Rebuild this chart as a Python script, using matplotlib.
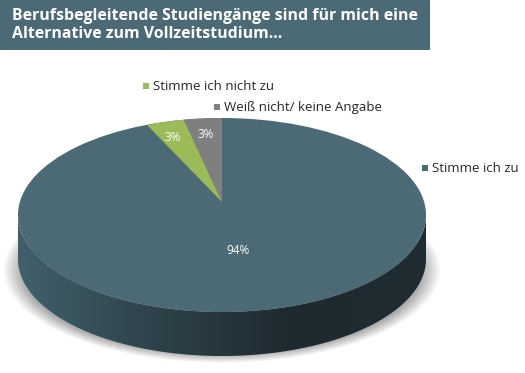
import numpy as np
import matplotlib.pyplot as plt
from matplotlib.patches import Polygon, Rectangle, Ellipse
from matplotlib.colors import LinearSegmentedColormap

# data
labels = ["Stimme ich zu", "Stimme ich nicht zu", "Weiß nicht/ keine Angabe"]
values = [94, 3, 3]
colors = ["#4b6a75", "#9bbb59", "#7f7f7f"]
title = "Berufsbegleitende Studiengänge sind für mich eine\nAlternative zum Vollzeitstudium..."

W, H = 525, 373
fig = plt.figure(figsize=(W / 100, H / 100), dpi=100)
ax = fig.add_axes([0, 0, 1, 1])
ax.set_xlim(0, W)
ax.set_ylim(H, 0)
ax.axis("off")

# pie geometry in pixels
cx, cy = 222, 215
a, b = 204, 97
depth = 44
apex = (222, 202)   # centre of the top face as seen in perspective


def pt(theta):
    t = np.radians(theta)
    return cx + a * np.cos(t), cy - b * np.sin(t)


# soft shadow (blurred ellipse)
X, Y = np.meshgrid(np.arange(W) + 0.5, np.arange(H) + 0.5)
r = np.sqrt(((X - 222) / 219) ** 2 + ((Y - 270) / 93) ** 2)
alpha = 0.6 * np.clip((1.0 - r) / 0.09, 0, 1)
shadow = np.zeros((H, W, 4))
shadow[..., :3] = 0.45
shadow[..., 3] = alpha
ax.imshow(shadow, extent=[0, W, H, 0], zorder=1, interpolation="bilinear")

# side of the cylinder (front half), gradient fill
th = np.linspace(180, 360, 200)
top_x = cx + a * np.cos(np.radians(th))
top_y = cy - b * np.sin(np.radians(th))
side = np.vstack([np.column_stack([top_x, top_y]),
                  np.column_stack([top_x[::-1], top_y[::-1] + depth])])
side_patch = Polygon(side, closed=True, fc="none", ec="none", zorder=2)
ax.add_patch(side_patch)
grad = np.linspace(0, 1, 256).reshape(1, -1)
cmap = LinearSegmentedColormap.from_list("side", ["#41606b", "#2e424a", "#1e2a30", "#1f2c32"])
im = ax.imshow(grad, cmap=cmap, extent=[cx - a, cx + a, cy + b + depth, cy - 5],
               aspect="auto", zorder=2, interpolation="bicubic")
im.set_clip_path(side_patch)
ax.set_xlim(0, W)
ax.set_ylim(H, 0)

# top face: big slice as full ellipse, small slices counterclockwise from 12 o'clock
ax.add_patch(Ellipse((cx, cy), 2 * a, 2 * b, fc=colors[0], ec="none", zorder=3))
total = sum(values)
start = 90
label_pos = {}
for idx in [2, 1]:
    span = values[idx] / total * 360
    angs = np.linspace(start, start + span, 20)
    pts = [apex] + [pt(t) for t in angs]
    ax.add_patch(Polygon(pts, closed=True, fc=colors[idx], ec="none", zorder=4))
    label_pos[idx] = start + span / 2
    start += span

# percentage labels
ax.text(238, 251, f"{values[0]}%", color="white", fontsize=8.5, ha="center", va="center",
        family="Open Sans", zorder=5)
for idx in (1, 2):
    t = np.radians(label_pos[idx])
    x = cx + a * 0.86 * np.cos(t)
    y = cy - b * 0.86 * np.sin(t) + 3
    ax.text(x, y, f"{values[idx]}%", color="white", fontsize=8.5, ha="center", va="center",
            family="Open Sans", zorder=5)

# legend-style labels
leg = [(1, 143, 86), (2, 214, 107), (0, 422, 168)]
for idx, x, y in leg:
    ax.add_patch(Rectangle((x, y - 3), 6, 6, fc=colors[idx], ec="none", zorder=5))
    ax.text(x + 10, y, labels[idx], fontsize=9.5, color="#262626", va="center", ha="left",
            family="Open Sans", zorder=5)

# title bar
ax.add_patch(Rectangle((0, 0), 430, 50, fc="#4b6a75", ec="none", zorder=4))
ax.text(12, 25, title, color="white", fontsize=11.4, fontweight="bold", va="center", ha="left",
        family="Open Sans", linespacing=1.12, zorder=5)

fig.savefig("out.png", dpi=100)
